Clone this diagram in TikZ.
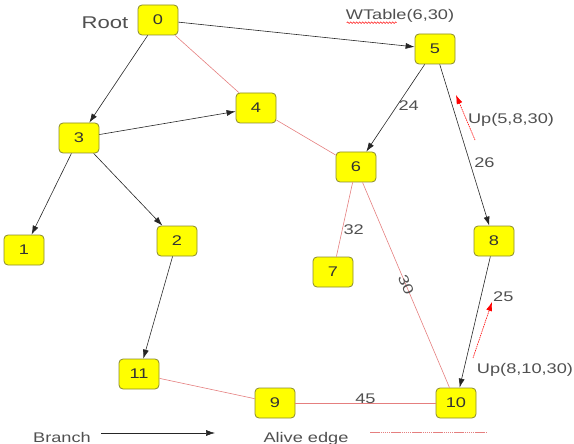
\documentclass[tikz,border=0pt]{standalone}
\usepackage{fontspec}
\usetikzlibrary{arrows.meta,decorations.pathmorphing}
\newfontfamily\drawfont{Liberation Sans}[FakeStretch=1.3]
\definecolor{boxfill}{HTML}{FFFF00}
\definecolor{boxline}{HTML}{8A8A2E}
\definecolor{alive}{HTML}{E57F7F}
\definecolor{labelgray}{HTML}{505050}
\begin{document}
\begin{tikzpicture}[x=1pt,y=-1pt,>={Latex[length=9pt,width=6pt]},
  vbox/.style={draw=boxline,fill=boxfill,rounded corners=4pt,line width=0.8pt,
    minimum width=40pt,minimum height=30pt,inner sep=0pt,
    text=black!80,font=\drawfont\fontsize{14}{16}\selectfont},
  lbl/.style={text=labelgray,font=\drawfont\fontsize{14}{16}\selectfont,inner sep=1pt},
  branch/.style={->,draw=black!85,line width=0.6pt},
  aliveedge/.style={draw=alive,line width=0.6pt},
  upmsg/.style={-{Latex[length=9pt,width=6pt]},draw=red,dash pattern=on 1.5pt off 0.8pt,line width=0.6pt}]
\useasboundingbox (0,0) rectangle (574,444);
%nodes
\node[vbox] (n0)  at (158,20)  {0};
\node[vbox] (n5)  at (435,49)  {5};
\node[vbox] (n4)  at (256,108) {4};
\node[vbox] (n3)  at (79,138)  {3};
\node[vbox] (n6)  at (356,167) {6};
\node[vbox] (n1)  at (24,250)  {1};
\node[vbox] (n2)  at (177,241) {2};
\node[vbox] (n8)  at (494,241) {8};
\node[vbox] (n7)  at (333,272) {7};
\node[vbox] (n11) at (139,374) {11};
\node[vbox] (n9)  at (275,403) {9};
\node[vbox] (n10) at (456,403) {10};
%labels
\node[lbl,font=\drawfont\fontsize{17}{19}\selectfont] (root) at (105,23) {Root};
\node[lbl] (wtable) at (400,16) {WTable(6,30)};
\draw[red,line width=0.5pt,decorate,decoration={snake,amplitude=0.8pt,segment length=3pt}]
  (wtable.south west) ++(2,-1) -- ++(50,0);
%alive edges
\draw[aliveedge] (n0) -- (n4);
\draw[aliveedge] (n4) -- (n6);
\draw[aliveedge] (n6) -- (n7) node[lbl,pos=0.64,anchor=west] {32};
\draw[aliveedge] (n6) -- (n10) node[lbl,midway,sloped] {30};
\draw[aliveedge] (n11) -- (n9);
\draw[aliveedge,line width=0.8pt] (n9) -- (n10) node[lbl,midway,above=-2pt] {45};
%branches
\draw[branch] (n0) -- (n3);
\draw[branch] (n0) -- (n5);
\draw[branch] (n3) -- (n4);
\draw[branch] (n3) -- (n1);
\draw[branch] (n3) -- (n2);
\draw[branch] (n2) -- (n11);
\draw[branch] (n5) -- (n6) node[lbl,pos=0.47,anchor=west] {24};
\draw[branch] (n5) -- (n8) node[lbl,pos=0.61,anchor=west,xshift=3pt] {26};
\draw[branch] (n8) -- (n10) node[lbl,pos=0.31,anchor=west,xshift=11pt] {25};
%update messages
\coordinate (u1s) at (475,140);
\coordinate (u1e) at (456,95);
\draw[upmsg] (u1s) -- (u1e);
\node[lbl] (up1) at (511,120) {Up(5,8,30)};
\coordinate (u2s) at (473,358);
\coordinate (u2e) at (492,302);
\draw[upmsg] (u2s) -- (u2e);
\node[lbl] (up2) at (525,370) {Up(8,10,30)};
%legend
\node[lbl,anchor=base] (lbranch) at (62,442) {Branch};
\coordinate (b1) at (101,433);
\coordinate (b2) at (215,433);
\draw[branch] (b1) -- (b2);
\node[lbl,anchor=base] (lalive) at (306,442) {Alive edge};
\coordinate (a1) at (370,432);
\coordinate (a2) at (487,432);
\draw[aliveedge,dash pattern=on 1.5pt off 0.6pt] (a1) -- (a2);
\end{tikzpicture}
\end{document}
